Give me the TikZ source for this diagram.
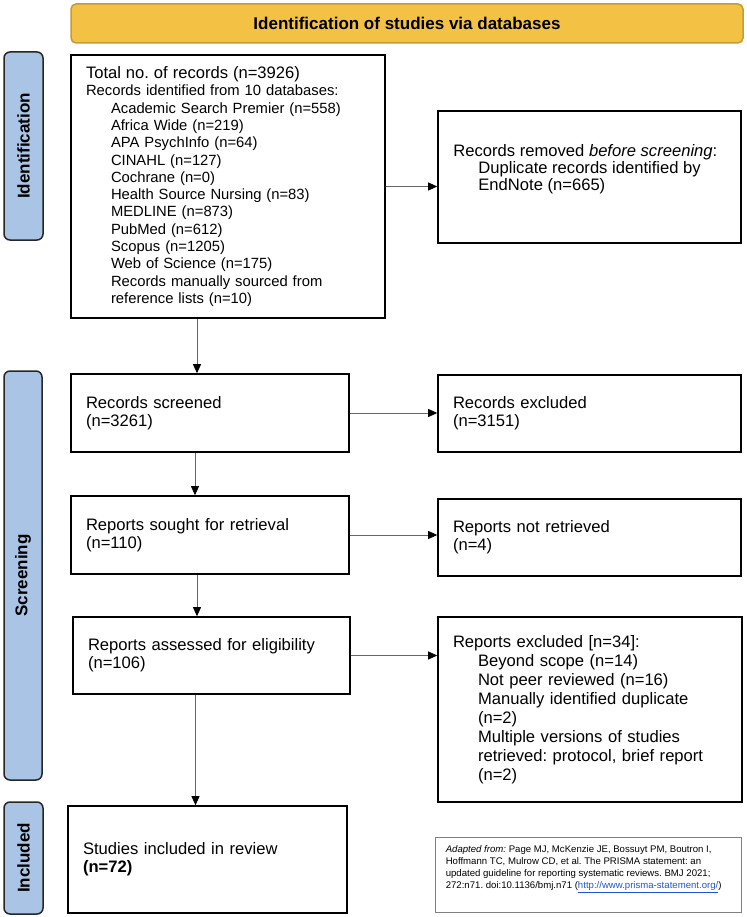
\documentclass[tikz,border=0pt]{standalone}
\usepackage{fontspec}
\setmainfont{Liberation Sans}
\usetikzlibrary{arrows.meta}
\definecolor{bannerfill}{RGB}{243,193,68}
\definecolor{bannerline}{RGB}{196,156,52}
\definecolor{tabfill}{RGB}{169,196,228}
\definecolor{linkblue}{RGB}{28,88,205}
\newcommand{\ind}{\hspace*{25pt}}
\frenchspacing
\begin{document}
\begin{tikzpicture}[x=1pt, y=-1pt,
	  box/.style={draw, line width=1.6pt, inner xsep=15pt, inner ysep=0pt, align=left, font=\fontsize{16.6}{18}\selectfont},
	  tab/.style={draw=black!85, line width=1.5pt, fill=tabfill, rounded corners=6pt, rotate=90, font=\fontsize{17}{17}\selectfont\bfseries},
	  flow/.style={draw=black!60, line width=0.8pt, -{Triangle[length=9pt,width=8pt,black]}}]

	  \useasboundingbox (0,0) rectangle (746,917);

	  % heading and phase tabs
	  \node [fill=bannerfill, draw=bannerline, line width=1.5pt, rounded corners=5pt, minimum width=672pt, minimum height=39pt, font=\fontsize{17}{17}\selectfont\bfseries] (banner) at (407,23.5) {Identification of studies via databases};
	  \node [tab, minimum width=188pt, minimum height=39pt] (tabid) at (23.5,146) {Identification};
	  \node [tab, minimum width=409pt, minimum height=38pt] (tabscr) at (23,575.5) {Screening};
	  \node [tab, minimum width=112pt, minimum height=39pt] (tabinc) at (23.5,858) {Included};

	  % identification
	  \node [box, text width=284pt, minimum height=263pt, font=\fontsize{14.8}{17.3}\selectfont] (total) at (228,186.5) {{\fontsize{16.6}{17.3}\selectfont Total no. of records (n=3926)}\\
	    Records identified from 10 databases:\\
	    \ind Academic Search Premier (n=558)\\
	    \ind Africa Wide (n=219)\\
	    \ind APA PsychInfo (n=64)\\
	    \ind CINAHL (n=127)\\
	    \ind Cochrane (n=0)\\
	    \ind Health Source Nursing (n=83)\\
	    \ind MEDLINE (n=873)\\
	    \ind PubMed (n=612)\\
	    \ind Scopus (n=1205)\\
	    \ind Web of Science (n=175)\\
	    \ind Records manually sourced from\\
	    \ind reference lists (n=10)};
	  \node [box, minimum width=303pt, minimum height=132pt] (removed) at (589.5,177) {};
	  \node [anchor=west, inner sep=0pt, align=left, font=\fontsize{16.6}{17}\selectfont] (removedtxt) at ([xshift=16pt, yshift=8pt]removed.west) {Records removed \textit{before screening}:\\
	    \ind Duplicate records identified by\\
	    \ind EndNote (n=665)};

	  % screening
	  \node [box, text width=248pt, minimum height=78pt] (screened) at (210,413) {Records screened\\(n=3261)};
	  \node [box, text width=273pt, minimum height=77pt] (excluded) at (589.5,413.5) {Records excluded\\(n=3151)};
	  \node [box, text width=248pt, minimum height=78pt] (sought) at (210,535) {Reports sought for retrieval\\(n=110)};
	  \node [box, text width=273pt, minimum height=77pt] (notretrieved) at (589.5,537.5) {Reports not retrieved\\(n=4)};
	  \node [box, text width=247pt, minimum height=77pt] (assessed) at (211.5,655.5) {Reports assessed for eligibility\\(n=106)};
	  \node [box, text width=274pt, minimum height=185pt, font=\fontsize{16.6}{19}\selectfont] (reportsexcl) at (590,709.5) {Reports excluded [n=34]:\\
	    \ind Beyond scope (n=14)\\
	    \ind Not peer reviewed (n=16)\\
	    \ind Manually identified duplicate\\
	    \ind (n=2)\\
	    \ind Multiple versions of studies\\
	    \ind retrieved: protocol, brief report\\
	    \ind (n=2)};

	  % included
	  \node [box, text width=249pt, minimum height=107pt] (included) at (207.5,859.5) {Studies included in review\\\textbf{(n=72)}};
	  \node [draw=black!50, line width=0.8pt, minimum width=306pt, minimum height=75pt] (cite) at (588,874.5) {};
	  \node [anchor=west, inner sep=0pt, align=left, font=\fontsize{9.6}{12.3}\selectfont] (citetxt) at ([xshift=11pt, yshift=5.5pt]cite.west) {\textit{Adapted from:} Page MJ, McKenzie JE, Bossuyt PM, Boutron I,\\
	    Hoffmann TC, Mulrow CD, et al. The PRISMA statement: an\\
	    updated guideline for reporting systematic reviews. BMJ 2021;\\
	    272:n71. doi:10.1136/bmj.n71 (\textcolor{linkblue}{\underline{http://www.prisma-statement.org/}})};

	  % connectors
	  \draw [flow] (total.east) -- (total.east -| removed.west);
	  \draw [flow] ([xshift=-31pt]total.south) -- ([xshift=-31pt]total.south |- screened.north);
	  \draw [flow] ([xshift=-15pt]screened.south) -- ([xshift=-15pt]screened.south |- sought.north);
	  \draw [flow] ([xshift=-13pt]sought.south) -- ([xshift=-13pt]sought.south |- assessed.north);
	  \draw [flow] ([xshift=-16pt]assessed.south) -- ([xshift=-16pt]assessed.south |- included.north);
	  \draw [flow] (screened.east) -- (screened.east -| excluded.west);
	  \draw [flow] (sought.east) -- (sought.east -| notretrieved.west);
	  \draw [flow] (assessed.east) -- (assessed.east -| reportsexcl.west);

\end{tikzpicture}
\end{document}
